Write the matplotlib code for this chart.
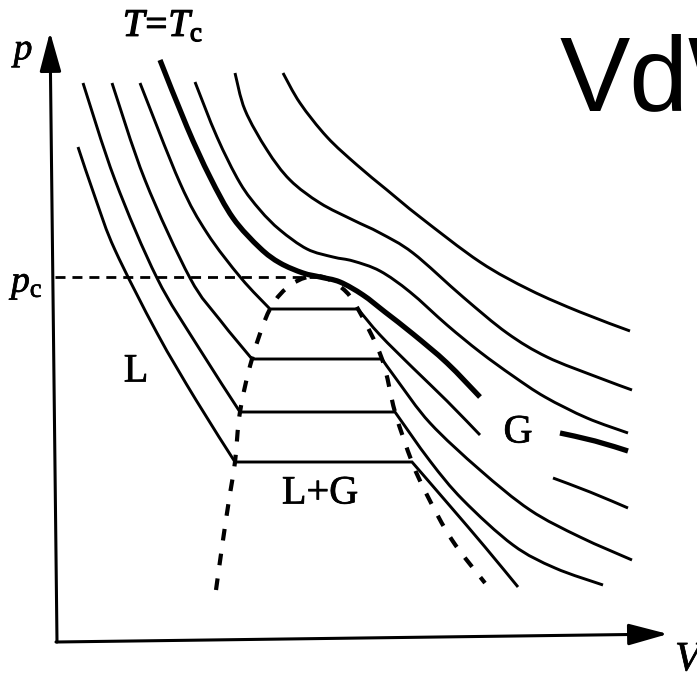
import matplotlib
matplotlib.use("Agg")
import matplotlib.pyplot as plt
import matplotlib.patheffects as pe
from matplotlib.path import Path
from matplotlib.patches import PathPatch

plt.rcParams["mathtext.fontset"] = "custom"
plt.rcParams["mathtext.rm"] = "Liberation Serif"
plt.rcParams["mathtext.it"] = "Liberation Serif:italic"

# ---- isotherms of a van der Waals gas, (V, p) points along each curve ----
# supercritical isotherms (hottest first)
t_hot3 = [(2.26, 5.67), (2.43, 5.37), (2.70, 5.03), (3.00, 4.75), (3.30, 4.50),
          (3.63, 4.23), (4.23, 3.78), (4.73, 3.50), (5.23, 3.28), (5.73, 3.09)]
t_hot2 = [(1.78, 5.67), (1.88, 5.30), (2.10, 4.90), (2.33, 4.60), (2.63, 4.37),
          (2.96, 4.20), (3.23, 4.07), (3.56, 3.87), (4.06, 3.43), (4.50, 3.07),
          (4.90, 2.83), (5.40, 2.63), (5.75, 2.50)]
t_hot1 = [(1.38, 5.58), (1.60, 5.03), (1.83, 4.57), (2.03, 4.30), (2.23, 4.10),
          (2.50, 3.91), (2.76, 3.83), (2.96, 3.79), (3.23, 3.69), (3.53, 3.48),
          (3.90, 3.15), (4.23, 2.88), (4.56, 2.64), (4.88, 2.43), (5.30, 2.22),
          (5.71, 2.07)]

# critical isotherm T = Tc
t_crit = [(1.03, 5.80), (1.30, 5.13), (1.53, 4.63), (1.76, 4.22), (2.03, 3.92),
          (2.23, 3.77), (2.46, 3.67), (2.63, 3.63), (2.83, 3.58), (3.06, 3.45),
          (3.28, 3.28), (3.56, 3.06), (3.90, 2.77), (4.23, 2.43)]
t_crit_tail = [(5.03, 2.07), (5.38, 1.99), (5.71, 1.89)]
v_crit, p_crit = 2.63, 3.63

# subcritical isotherms: liquid branch, then gas branch (tie line joins them)
t_sub4_liquid = [(0.83, 5.57), (1.23, 4.57), (1.50, 4.07), (1.84, 3.62),
                 (2.13, 3.31)]
t_sub4_gas = [(3.01, 3.31), (3.23, 3.05), (3.56, 2.72), (3.90, 2.39),
              (4.23, 2.05)]
t_sub4_tail = [(4.96, 1.62), (5.33, 1.48), (5.71, 1.32)]

t_sub3_liquid = [(0.55, 5.57), (0.88, 4.60), (1.33, 3.62), (1.63, 3.20),
                 (1.95, 2.81)]
t_sub3_gas = [(3.25, 2.81), (3.40, 2.60), (3.73, 2.17), (4.23, 1.70),
              (4.73, 1.30), (5.23, 1.03), (5.75, 0.80)]

t_sub2_liquid = [(0.26, 5.57), (0.58, 4.60), (1.00, 3.62), (1.40, 2.95),
                 (1.83, 2.28)]
t_sub2_gas = [(3.38, 2.28), (3.73, 1.79), (4.06, 1.40), (4.56, 0.95),
              (4.98, 0.72), (5.46, 0.55)]

t_sub1_liquid = [(0.21, 4.93), (0.39, 4.40), (0.58, 3.90), (1.00, 3.07),
                 (1.39, 2.40), (1.78, 1.78)]
t_sub1_gas = [(3.55, 1.78), (3.93, 1.34), (4.28, 0.93), (4.61, 0.53)]

# coexistence (binodal) curve
binodal = [(1.59, 0.50), (1.66, 1.00), (1.72, 1.40), (1.78, 1.78), (1.83, 2.28),
           (1.95, 2.81), (2.13, 3.31), (2.35, 3.56), (2.61, 3.64), (2.85, 3.52),
           (3.01, 3.31), (3.25, 2.81), (3.38, 2.28), (3.55, 1.78), (3.70, 1.45),
           (3.95, 1.00), (4.28, 0.57)]


def smooth_path(pts):
    """Catmull-Rom curve through pts, expressed as cubic Bezier path pieces."""
    n = len(pts)
    verts = [pts[0]]
    codes = [Path.MOVETO]
    for i in range(n - 1):
        p0 = pts[i - 1] if i > 0 else pts[i]
        p1 = pts[i]
        p2 = pts[i + 1]
        p3 = pts[i + 2] if i + 2 < n else pts[i + 1]
        c1 = (p1[0] + (p2[0] - p0[0]) / 6, p1[1] + (p2[1] - p0[1]) / 6)
        c2 = (p2[0] - (p3[0] - p1[0]) / 6, p2[1] - (p3[1] - p1[1]) / 6)
        verts += [c1, c2, p2]
        codes += [Path.CURVE4] * 3
    return verts, codes


def isotherm_path(*branches):
    """Join branches; consecutive branches are connected by straight tie lines."""
    verts, codes = [], []
    for k, br in enumerate(branches):
        v, c = smooth_path(br)
        if k > 0:
            c = [Path.LINETO] + c[1:]
        verts += v
        codes += c
    return Path(verts, codes)


fig = plt.figure(figsize=(6.97, 6.75), dpi=100)
ax = fig.add_axes([0, 0, 1, 1])
ax.set_xlim(-0.57, 6.40)
ax.set_ylim(-0.35, 6.40)
ax.axis("off")

thin = dict(fill=False, edgecolor="black", lw=2.1, capstyle="butt",
            joinstyle="miter")
thick = dict(fill=False, edgecolor="black", lw=3.8, capstyle="butt",
             joinstyle="miter")

for curve in (t_hot3, t_hot2, t_hot1):
    ax.add_patch(PathPatch(isotherm_path(curve), **thin))

ax.add_patch(PathPatch(isotherm_path(t_crit), **thick))
ax.add_patch(PathPatch(isotherm_path(t_crit_tail), **thick))

for liq, gas in ((t_sub4_liquid, t_sub4_gas), (t_sub3_liquid, t_sub3_gas),
                 (t_sub2_liquid, t_sub2_gas), (t_sub1_liquid, t_sub1_gas)):
    ax.add_patch(PathPatch(isotherm_path(liq, gas), **thin))
ax.add_patch(PathPatch(isotherm_path(t_sub4_tail), **thin))

# binodal, dashed
ax.add_patch(PathPatch(isotherm_path(binodal), fill=False, edgecolor="black",
                       lw=3.0, linestyle=(0, (2.8, 3.2)), capstyle="butt"))

# critical pressure level
ax.plot([-0.02, v_crit], [p_crit, p_crit], color="black", lw=2.0,
        linestyle=(0, (3.6, 2.5)), dash_capstyle="butt")

# axes with arrow heads
arrow = dict(arrowstyle="-|>,head_length=1.1,head_width=0.3", color="black",
             lw=2.2, shrinkA=0, shrinkB=0, mutation_scale=22)
ax.annotate("", xy=(-0.07, 6.08), xytext=(0.0, -0.02), arrowprops=arrow)
ax.annotate("", xy=(6.11, 0.06), xytext=(-0.01, -0.02), arrowprops=arrow)

serif = "Liberation Serif"
heavy = [pe.withStroke(linewidth=0.5, foreground="black")]
ax.text(-0.34, 5.90, "p", fontsize=27, family=serif, style="italic",
        ha="center", va="center", path_effects=heavy)
ax.text(6.18, -0.20, "V", fontsize=30, family=serif, style="italic",
        ha="left", va="center", path_effects=heavy)
ax.text(1.06, 6.15, r"$T\!=\!T_{\mathrm{c}}$", fontsize=28, ha="center",
        va="center", path_effects=[pe.withStroke(linewidth=0.9,
                                                 foreground="black")])
ax.text(-0.29, 3.56, r"$p_{\mathrm{c}}$", fontsize=27, ha="center",
        va="center", path_effects=heavy)
ax.text(0.79, 2.68, "L", fontsize=29, family=serif, ha="center", va="center",
        path_effects=heavy)
ax.text(2.63, 1.46, "L+G", fontsize=29, family=serif, ha="center",
        va="center", path_effects=heavy)
ax.text(4.61, 2.07, "G", fontsize=29, family=serif, ha="center", va="center",
        path_effects=heavy)
ax.text(5.03, 5.30, "VdW", fontsize=76, family="Liberation Sans",
        ha="left", va="baseline")

fig.savefig("out.png", dpi=100)
